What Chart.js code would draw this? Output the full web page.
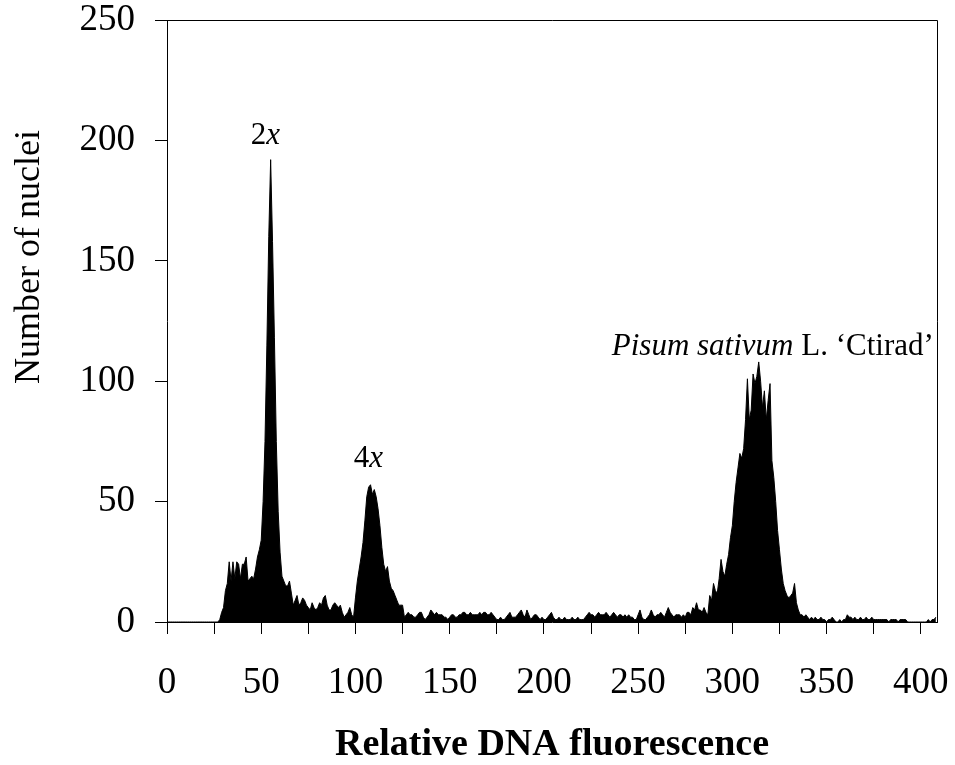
<!DOCTYPE html>
<html><head><meta charset="utf-8">
<script src="https://cdn.jsdelivr.net/npm/chart.js@4/dist/chart.umd.min.js"></script>
<style>html,body{margin:0;padding:0;background:#fff;}#wrap{width:955px;height:765px;}</style>
</head><body><div id="wrap"><canvas id="c" width="955" height="765"></canvas></div>
<script>
// Number of nuclei per fluorescence channel, channel 0 .. 408
const counts = [
0,0,0,0,0,0,0,0,0,0,
0,0,0,0,0,0,0,0,0,0,
0,0,0,0,0,0,0,0,1,4,
6,13,16,25,17,25,18,25,24,18,
24,24,27,17,18,19,18,22,27,30,
34,50,75,115,160,192,158,118,75,46,
29,19,17,15,15,17,12,7,9,11,
7,8,10,9,7,6,5,8,6,5,
6,8,7,10,11,7,5,5,7,8,
7,6,7,4,2,3,4,6,3,2,
10,17,22,27,33,42,52,56,57,53,
55,52,47,40,31,24,21,23,17,14,
13,11,9,7,7,7,2,3,4,3,
3,2,2,3,4,4,2,1,2,3,
5,4,3,4,3,3,3,2,2,1,
2,3,3,2,2,3,3,4,4,3,
3,4,3,3,3,3,4,3,4,4,
3,3,4,3,2,1,1,2,1,1,
2,3,4,2,2,2,3,4,5,3,
2,5,3,1,2,3,3,2,1,2,
1,1,2,3,4,2,1,1,2,1,
1,2,1,1,1,2,1,1,2,1,
1,1,2,3,4,3,3,2,3,4,
3,3,3,4,3,2,3,4,3,2,
3,3,2,3,2,3,2,2,1,1,
3,5,2,1,1,2,3,5,3,2,
3,3,4,3,2,4,6,4,3,2,
3,3,3,2,3,2,4,4,3,6,
5,8,5,5,4,6,4,3,11,9,
16,13,12,18,26,21,19,24,28,35,
40,50,58,64,70,68,72,84,101,84,
88,103,99,102,108,100,89,96,84,92,
99,67,60,50,38,30,22,16,13,11,
10,11,12,16,8,5,3,3,2,3,
2,1,2,1,2,1,1,2,1,1,
0,1,1,2,1,0,0,1,0,1,
1,3,2,2,1,2,1,1,2,1,
1,2,1,1,2,1,1,1,1,1,
1,1,1,0,1,1,1,1,0,1,
1,1,1,0,0,0,0,0,0,0,
0,0,0,0,1,0,1,1,2
];
const firstChannel = 0;
const xTickValues = [0,25,50,75,100,125,150,175,200,225,250,275,300,325,350,375,400];
const xLabelValues = [0,50,100,150,200,250,300,350,400];
const yTickValues = [0,50,100,150,200,250];
const xTitle = 'Relative DNA fluorescence';
const yTitle = 'Number of nuclei';

const points = counts.map((v, i) => ({x: firstChannel + i, y: v}));
const SERIF = "'Liberation Serif', 'Times New Roman', serif";

const decor = {
  id: 'decor',
  afterDraw(chart) {
    const {ctx, chartArea: a, scales: {x, y}} = chart;
    ctx.save();
    // frame: top and right
    ctx.strokeStyle = '#000';
    ctx.lineWidth = 1;
    ctx.beginPath();
    ctx.moveTo(a.left, Math.round(a.top) + 0.5);
    ctx.lineTo(Math.round(a.right) + 0.5, Math.round(a.top) + 0.5);
    ctx.lineTo(Math.round(a.right) + 0.5, a.bottom);
    ctx.stroke();
    // y title
    ctx.fillStyle = '#000';
    ctx.font = '36px ' + SERIF;
    ctx.textAlign = 'center';
    ctx.textBaseline = 'middle';
    ctx.translate(30, 257);
    ctx.rotate(-Math.PI / 2);
    ctx.fillText(yTitle, 0, 0);
    ctx.restore();

    // annotations
    const drawParts = (parts, px, py, align) => {
      ctx.save();
      ctx.fillStyle = '#000';
      ctx.textBaseline = 'alphabetic';
      ctx.textAlign = 'left';
      let total = 0;
      parts.forEach(p => { ctx.font = p[1] + ' 31px ' + SERIF; total += ctx.measureText(p[0]).width; });
      let cx = align === 'center' ? px - total / 2 : (align === 'right' ? px - total : px);
      parts.forEach(p => { ctx.font = p[1] + ' 31px ' + SERIF; ctx.fillText(p[0], cx, py); cx += ctx.measureText(p[0]).width; });
      ctx.restore();
    };
    drawParts([['2','normal'],['x','italic']], x.getPixelForValue(52.2), y.getPixelForValue(198.5), 'center');
    drawParts([['4','normal'],['x','italic']], x.getPixelForValue(106.8), y.getPixelForValue(64.4), 'center');
    drawParts([['Pisum sativum','italic'],[' L. \u2018Ctirad\u2019','normal']], x.getPixelForValue(406.9), y.getPixelForValue(110.9), 'right');
  }
};

new Chart(document.getElementById('c'), {
  type: 'line',
  data: { datasets: [{
    data: points,
    fill: 'origin',
    backgroundColor: '#000',
    borderColor: '#000',
    borderWidth: 1,
    pointRadius: 0,
    tension: 0
  }]},
  options: {
    responsive: false,
    animation: false,
    devicePixelRatio: 1,
    layout: { padding: { left: 0, right: 18, top: 20, bottom: 0 } },
    plugins: { legend: { display: false }, tooltip: { enabled: false } },
    scales: {
      x: {
        type: 'linear', min: 0, max: 408.6,
        afterBuildTicks: s => { s.ticks = xTickValues.map(v => ({value: v})); },
        afterFit: s => { s.height = 143; s.paddingLeft = 0; s.paddingRight = 0; },
        grid: { drawOnChartArea: false, drawTicks: true, tickLength: 12, color: '#000', lineWidth: 1 },
        border: { display: true, color: '#000', width: 1 },
        ticks: {
          autoSkip: false, maxRotation: 0, minRotation: 0, padding: 27, color: '#000',
          font: { family: SERIF, size: 37 },
          callback: v => xLabelValues.includes(v) ? String(v) : ''
        },
        title: { display: true, text: xTitle, color: '#000',
          font: { family: SERIF, size: 38, weight: 'bold' }, padding: { top: 0, bottom: -3 } }
      },
      y: {
        min: 0, max: 250,
        afterBuildTicks: s => { s.ticks = yTickValues.map(v => ({value: v})); },
        afterFit: s => { s.width = 167; s.paddingTop = 0; s.paddingBottom = 0; },
        grid: { drawOnChartArea: false, drawTicks: true, tickLength: 12, color: '#000', lineWidth: 1 },
        border: { display: true, color: '#000', width: 1 },
        ticks: { padding: 20, color: '#000', font: { family: SERIF, size: 37 } }
      }
    }
  },
  plugins: [decor]
});
</script></body></html>
